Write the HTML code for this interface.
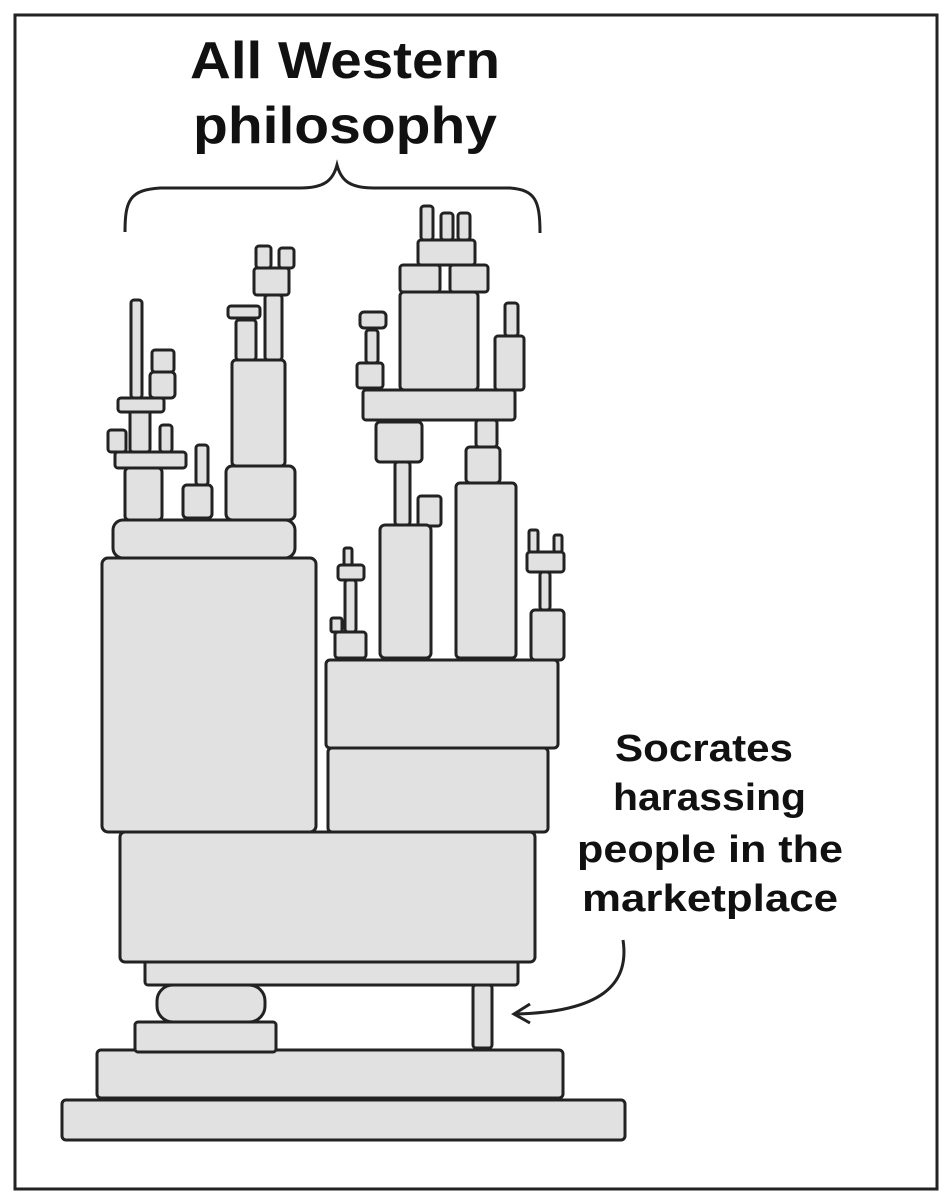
<!DOCTYPE html>
<html><head><meta charset="utf-8"><style>
html,body{margin:0;padding:0;background:#fff;}
svg{display:block;}
text{font-family:"Liberation Sans",sans-serif;font-weight:bold;fill:#111;}
</style></head><body>
<svg width="952" height="1200" viewBox="0 0 952 1200" xmlns="http://www.w3.org/2000/svg">
<rect x="15" y="15" width="922" height="1174" fill="#fff" stroke="#222" stroke-width="3"/>
<g font-size="52">
<text x="190" y="78" textLength="310" lengthAdjust="spacingAndGlyphs">All Western</text>
<text x="193" y="143" textLength="304" lengthAdjust="spacingAndGlyphs">philosophy</text>
</g>
<g font-size="38">
<text x="615" y="761" textLength="178" lengthAdjust="spacingAndGlyphs">Socrates</text>
<text x="613" y="810" textLength="193" lengthAdjust="spacingAndGlyphs">harassing</text>
<text x="577" y="862" textLength="266" lengthAdjust="spacingAndGlyphs">people in the</text>
<text x="582" y="911" textLength="256" lengthAdjust="spacingAndGlyphs">marketplace</text>
</g>
<path d="M125,232 C125,200 130,190 160,188 L300,188 C325,188 333,180 337,165 C341,180 349,188 374,188 L510,188 C535,190 540,200 540,233" fill="none" stroke="#222" stroke-width="3"/>
<path d="M623,940 C630,985 600,1012 516,1014" fill="none" stroke="#222" stroke-width="3"/>
<path d="M530,1004 L514,1014 L530,1023" fill="none" stroke="#222" stroke-width="3"/>
<g fill="#e1e1e1" stroke="#222" stroke-width="3">
<rect x="62" y="1100" width="563" height="40" rx="4"/>
<rect x="97" y="1050" width="466" height="48" rx="4"/>
<rect x="135" y="1022" width="141" height="30" rx="3"/>
<rect x="157" y="985" width="108" height="37" rx="16"/>
<rect x="473" y="985" width="19" height="63" rx="3"/>
<rect x="145" y="955" width="373" height="30" rx="3"/>
<rect x="120" y="832" width="415" height="130" rx="5"/>
<rect x="102" y="558" width="214" height="274" rx="6"/>
<rect x="328" y="748" width="220" height="84" rx="4"/>
<rect x="326" y="660" width="232" height="88" rx="4"/>
<rect x="113" y="520" width="182" height="38" rx="10"/>
<rect x="125" y="468" width="37" height="52" rx="4"/>
<rect x="196" y="445" width="12" height="40" rx="3"/>
<rect x="183" y="485" width="29" height="33" rx="4"/>
<rect x="226" y="466" width="69" height="54" rx="6"/>
<rect x="232" y="360" width="53" height="106" rx="4"/>
<rect x="108" y="430" width="18" height="22" rx="3"/>
<rect x="130" y="408" width="20" height="44" rx="3"/>
<rect x="160" y="425" width="12" height="27" rx="3"/>
<rect x="115" y="452" width="71" height="16" rx="3"/>
<rect x="131" y="300" width="11" height="98" rx="3"/>
<rect x="118" y="398" width="46" height="14" rx="3"/>
<rect x="152" y="350" width="22" height="22" rx="3"/>
<rect x="150" y="372" width="25" height="26" rx="4"/>
<rect x="236" y="320" width="20" height="40" rx="3"/>
<rect x="228" y="306" width="32" height="12" rx="3"/>
<rect x="265" y="295" width="17" height="65" rx="3"/>
<rect x="254" y="268" width="35" height="27" rx="3"/>
<rect x="256" y="246" width="15" height="22" rx="3"/>
<rect x="279" y="248" width="15" height="20" rx="3"/>
<rect x="363" y="390" width="152" height="30" rx="3"/>
<rect x="400" y="292" width="78" height="98" rx="4"/>
<rect x="400" y="265" width="40" height="27" rx="3"/>
<rect x="450" y="265" width="38" height="27" rx="3"/>
<rect x="418" y="240" width="57" height="25" rx="3"/>
<rect x="421" y="206" width="12" height="34" rx="3"/>
<rect x="441" y="213" width="12" height="27" rx="3"/>
<rect x="458" y="213" width="12" height="27" rx="3"/>
<rect x="495" y="336" width="29" height="54" rx="3"/>
<rect x="505" y="303" width="13" height="33" rx="3"/>
<rect x="357" y="363" width="26" height="25" rx="3"/>
<rect x="366" y="330" width="12" height="33" rx="3"/>
<rect x="360" y="312" width="26" height="16" rx="4"/>
<rect x="376" y="422" width="46" height="40" rx="4"/>
<rect x="395" y="462" width="15" height="63" rx="3"/>
<rect x="418" y="496" width="23" height="30" rx="3"/>
<rect x="380" y="525" width="51" height="133" rx="5"/>
<rect x="456" y="483" width="60" height="175" rx="4"/>
<rect x="466" y="447" width="34" height="36" rx="4"/>
<rect x="476" y="420" width="21" height="27" rx="3"/>
<rect x="335" y="632" width="31" height="26" rx="3"/>
<rect x="345" y="580" width="11" height="52" rx="3"/>
<rect x="338" y="565" width="26" height="15" rx="3"/>
<rect x="344" y="548" width="8" height="17" rx="2"/>
<rect x="331" y="618" width="11" height="14" rx="2"/>
<rect x="531" y="610" width="33" height="50" rx="4"/>
<rect x="540" y="572" width="10" height="38" rx="3"/>
<rect x="527" y="552" width="37" height="20" rx="3"/>
<rect x="529" y="530" width="9" height="22" rx="2"/>
<rect x="554" y="535" width="8" height="17" rx="2"/>
</g>
</svg>
</body></html>
